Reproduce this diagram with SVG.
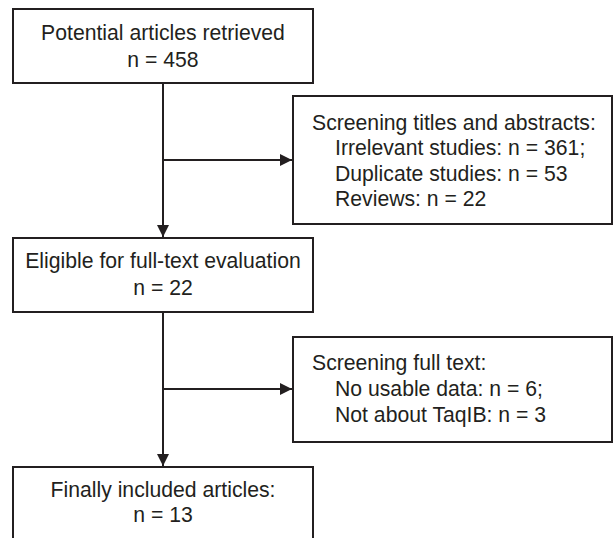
<svg xmlns="http://www.w3.org/2000/svg" width="614" height="538" viewBox="0 0 614 538">
<defs>
<style>
.box{fill:#fff;stroke:#231f20;stroke-width:2}
.t{font-family:"Liberation Sans",Arial,sans-serif;font-size:21.2px;fill:#231f20}
.c{text-anchor:middle}
.ln{fill:none;stroke:#231f20;stroke-width:2}
</style>
<marker id="ah" viewBox="0 0 10 10" refX="10" refY="5" markerWidth="12" markerHeight="12" markerUnits="userSpaceOnUse" orient="auto">
<path d="M0,0 L10,5 L0,10 z" fill="#231f20"/>
</marker>
</defs>
<rect width="614" height="538" fill="#fff"/>
<g id="connectors">
<path class="ln" d="M163,83 V237" marker-end="url(#ah)"/>
<path class="ln" d="M163,160 H292" marker-end="url(#ah)"/>
<path class="ln" d="M163,312 V466" marker-end="url(#ah)"/>
<path class="ln" d="M163,389 H292" marker-end="url(#ah)"/>
</g>
<g id="n1">
<rect class="box" x="13" y="9" width="300" height="74"/>
<text class="t c" x="163" y="40">Potential articles retrieved</text>
<text class="t c" x="163" y="67">n = 458</text>
</g>
<g id="n2">
<rect class="box" x="293" y="96" width="319" height="128"/>
<text class="t" x="312" y="130">Screening titles and abstracts:</text>
<text class="t" x="335" y="155">Irrelevant studies: n = 361;</text>
<text class="t" x="335" y="181">Duplicate studies: n = 53</text>
<text class="t" x="335" y="206">Reviews: n = 22</text>
</g>
<g id="n3">
<rect class="box" x="13" y="238" width="300" height="74"/>
<text class="t c" x="163" y="268">Eligible for full-text evaluation</text>
<text class="t c" x="163" y="295">n = 22</text>
</g>
<g id="n4">
<rect class="box" x="293" y="337" width="319" height="105"/>
<text class="t" x="312" y="370">Screening full text:</text>
<text class="t" x="335" y="396">No usable data: n = 6;</text>
<text class="t" x="335" y="422">Not about TaqIB: n = 3</text>
</g>
<g id="n5">
<rect class="box" x="13" y="467" width="300" height="90"/>
<text class="t c" x="163" y="497">Finally included articles:</text>
<text class="t c" x="163" y="522">n = 13</text>
</g>
</svg>
